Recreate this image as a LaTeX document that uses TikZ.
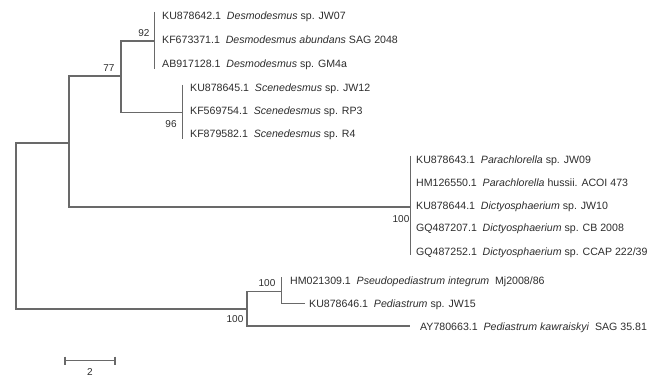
\documentclass[tikz,border=0pt]{standalone}
\usepackage{fontspec}
\setmainfont{Liberation Sans}
\definecolor{treeline}{RGB}{105,105,105}
\definecolor{treetext}{RGB}{45,45,45}
\newcommand{\gp}{\hspace{0.55em}}
\begin{document}
\begin{tikzpicture}[x=1pt,y=-1pt,
  br/.style={draw=treeline,line width=1.9pt},
  leaf/.style={anchor=base west,inner sep=0pt,text=treetext,font=\fontsize{10.6}{12}\selectfont},
  blab/.style={inner sep=0pt,text=treetext,font=\fontsize{10}{12}\selectfont}]
\useasboundingbox[fill=white] (0,0) rectangle (651,377);
% internal nodes
\coordinate (root) at (16,226);
\coordinate (n69) at (69,143);
\coordinate (n77) at (120.7,76);
\coordinate (n92) at (154.5,41);
\coordinate (n96) at (182.5,112.5);
\coordinate (nPa) at (410.5,207);
\coordinate (nPo) at (247.3,309);
\coordinate (nPi) at (281.5,291.5);
\coordinate (eKU6) at (305,303.5);
\coordinate (eAY) at (410,326);
% bars of zero-length leaves
\coordinate (b92t) at (154.5,12);  \coordinate (b92b) at (154.5,69);
\coordinate (b96t) at (182.5,85);  \coordinate (b96b) at (182.5,139);
\coordinate (bPat) at (410.5,156); \coordinate (bPab) at (410.5,255);
\coordinate (bPit) at (281.5,277);
% branches
\draw[br] (root) |- (n69);
\draw[br] (root) |- (nPo);
\draw[br] (n69) |- (n77);
\draw[br] (n69) |- (nPa);
\draw[br] (n77) |- (n92);
\draw[br] (n77) |- (n96);
\draw[br] (nPo) |- (nPi);
\draw[br] (nPo) |- (eAY);
\draw[br] (nPi) |- (eKU6);
\draw[br] (b92t) -- (b92b);
\draw[br] (b96t) -- (b96b);
\draw[br] (bPat) -- (bPab);
\draw[br] (bPit) -- (nPi);
% leaves
\node[leaf] (L1) at (162,20) {KU878642.1\gp\textit{Desmodesmus} sp. JW07};
\node[leaf] (L2) at (162,44) {KF673371.1\gp\textit{Desmodesmus abundans} SAG 2048};
\node[leaf] (L3) at (162,68) {AB917128.1\gp\textit{Desmodesmus} sp. GM4a};
\node[leaf] (L4) at (190,92) {KU878645.1\gp\textit{Scenedesmus} sp. JW12};
\node[leaf] (L5) at (190,115) {KF569754.1\gp\textit{Scenedesmus} sp. RP3};
\node[leaf] (L6) at (190,138) {KF879582.1\gp\textit{Scenedesmus} sp. R4};
\node[leaf] (L7) at (416,164) {KU878643.1\gp\textit{Parachlorella} sp. JW09};
\node[leaf] (L8) at (416,186) {HM126550.1\gp\textit{Parachlorella} hussii. ACOI 473};
\node[leaf] (L9) at (416,209) {KU878644.1\gp\textit{Dictyosphaerium} sp. JW10};
\node[leaf] (L10) at (416,232) {GQ487207.1\gp\textit{Dictyosphaerium} sp. CB 2008};
\node[leaf] (L11) at (416,255) {GQ487252.1\gp\textit{Dictyosphaerium} sp. CCAP 222/39};
\node[leaf] (L12) at (290,284) {HM021309.1\gp\textit{Pseudopediastrum integrum}\gp Mj2008/86};
\node[leaf] (L13) at (309,307.5) {KU878646.1\gp\textit{Pediastrum} sp. JW15};
\node[leaf] (L14) at (420,330) {AY780663.1\gp\textit{Pediastrum kawraiskyi}\gp SAG 35.81};
% bootstrap values
\node[blab] (s92) at (144,33) {92};
\node[blab] (s77) at (109,68.5) {77};
\node[blab] (s96) at (171,124) {96};
\node[blab] (sPa) at (401,219) {100};
\node[blab] (sPi) at (267,283.5) {100};
\node[blab] (sPo) at (235,319.5) {100};
% scale bar
\coordinate (sbL) at (65,360.5);
\coordinate (sbR) at (115,360.5);
\draw[br,line width=1.5pt] (sbL) -- (sbR);
\draw[br,line width=1.5pt] ([yshift=4pt]sbL) -- ([yshift=-4pt]sbL);
\draw[br,line width=1.5pt] ([yshift=4pt]sbR) -- ([yshift=-4pt]sbR);
\node[blab] (sblab) at (90,372) {2};
\end{tikzpicture}
\end{document}
